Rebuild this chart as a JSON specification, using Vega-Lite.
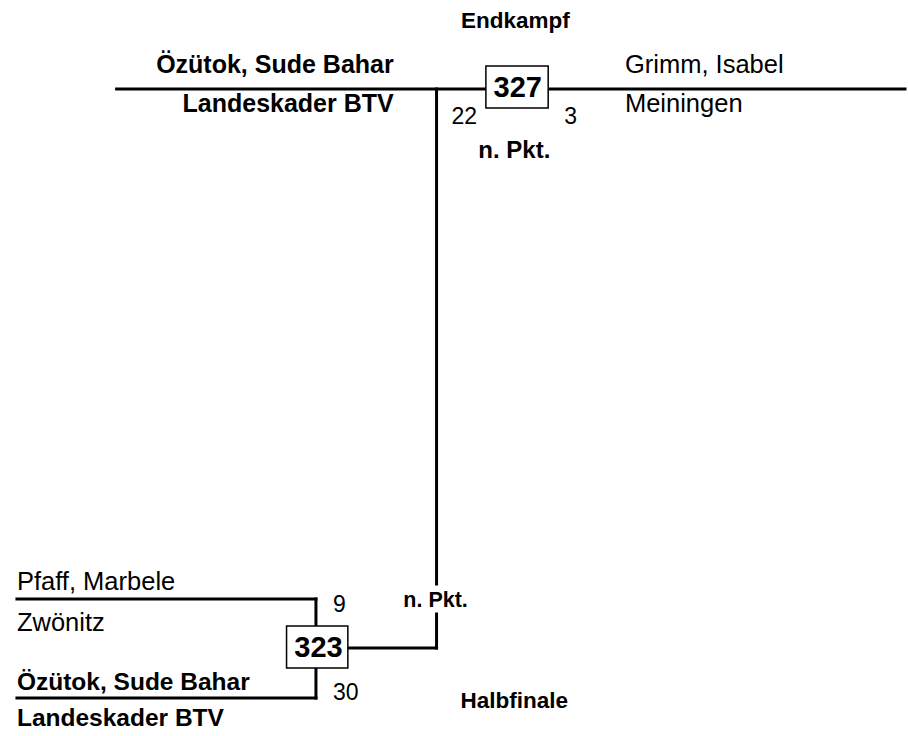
{
  "$schema": "https://vega.github.io/schema/vega-lite/v6.json",
  "width": 908,
  "height": 736,
  "autosize": {"type": "fit", "contains": "padding"},
  "padding": 0,
  "background": "white",
  "config": {"view": {"stroke": null}, "font": "Liberation Sans"},
  "datasets": {
    "lines": [
      {"x": 117, "x2": 908, "y": 89, "y2": 89},
      {"x": 438, "x2": 438, "y": 89, "y2": 584},
      {"x": 438, "x2": 438, "y": 614, "y2": 648},
      {"x": 349, "x2": 438, "y": 648, "y2": 648},
      {"x": 17, "x2": 317, "y": 599, "y2": 599},
      {"x": 317, "x2": 317, "y": 599, "y2": 626},
      {"x": 317, "x2": 317, "y": 668, "y2": 698},
      {"x": 17, "x2": 317, "y": 698, "y2": 698}
    ],
    "boxes": [
      {"x": 487.5, "x2": 550, "y": 66, "y2": 108},
      {"x": 287.5, "x2": 349, "y": 626, "y2": 668}
    ],
    "texts": [
      {"text": "Endkampf", "x": 517, "y": 28, "kind": "head"},
      {"text": "Halbfinale", "x": 516, "y": 708, "kind": "head"},
      {"text": "Özütok, Sude Bahar", "x": 395, "y": 73, "kind": "boldR"},
      {"text": "Landeskader BTV", "x": 395, "y": 112, "kind": "boldR"},
      {"text": "Grimm, Isabel", "x": 627, "y": 73, "kind": "nameL"},
      {"text": "Meiningen", "x": 627, "y": 112, "kind": "nameL"},
      {"text": "Pfaff, Marbele", "x": 17, "y": 590, "kind": "nameL"},
      {"text": "Zwönitz", "x": 17, "y": 631, "kind": "nameL"},
      {"text": "Özütok, Sude Bahar", "x": 17, "y": 690, "kind": "boldL"},
      {"text": "Landeskader BTV", "x": 17, "y": 726, "kind": "boldL"},
      {"text": "22", "x": 453, "y": 124, "kind": "score"},
      {"text": "3", "x": 566, "y": 124, "kind": "score"},
      {"text": "9", "x": 334, "y": 612, "kind": "score"},
      {"text": "30", "x": 334, "y": 700, "kind": "score"},
      {"text": "n. Pkt.", "x": 516, "y": 158, "kind": "note"},
      {"text": "n. Pkt.", "x": 437, "y": 607, "kind": "noteSmall"},
      {"text": "327", "x": 519.5, "y": 97, "kind": "match"},
      {"text": "323", "x": 319.5, "y": 657, "kind": "match"}
    ]
  },
  "encoding": {
    "x": {"field": "x", "type": "quantitative", "scale": {"domain": [0, 908], "nice": false, "zero": false}, "axis": null},
    "y": {"field": "y", "type": "quantitative", "scale": {"domain": [0, 736], "nice": false, "zero": false, "reverse": true}, "axis": null}
  },
  "layer": [
    {
      "data": {"name": "lines"},
      "mark": {"type": "rule", "color": "black", "strokeWidth": 3, "strokeCap": "square"},
      "encoding": {"x2": {"field": "x2"}, "y2": {"field": "y2"}}
    },
    {
      "data": {"name": "boxes"},
      "mark": {"type": "rect", "fill": "white", "stroke": "black", "strokeWidth": 1.5},
      "encoding": {"x2": {"field": "x2"}, "y2": {"field": "y2"}}
    },
    {
      "data": {"name": "texts"},
      "transform": [{"filter": "datum.kind === 'head'"}],
      "mark": {"type": "text", "font": "Liberation Sans", "fontWeight": "bold", "fontSize": 22.5, "align": "center", "baseline": "alphabetic", "color": "black"},
      "encoding": {"text": {"field": "text"}}
    },
    {
      "data": {"name": "texts"},
      "transform": [{"filter": "datum.kind === 'boldR'"}],
      "mark": {"type": "text", "font": "Liberation Sans", "fontWeight": "bold", "fontSize": 25, "align": "right", "baseline": "alphabetic", "color": "black"},
      "encoding": {"text": {"field": "text"}}
    },
    {
      "data": {"name": "texts"},
      "transform": [{"filter": "datum.kind === 'boldL'"}],
      "mark": {"type": "text", "font": "Liberation Sans", "fontWeight": "bold", "fontSize": 24.5, "align": "left", "baseline": "alphabetic", "color": "black"},
      "encoding": {"text": {"field": "text"}}
    },
    {
      "data": {"name": "texts"},
      "transform": [{"filter": "datum.kind === 'nameL'"}],
      "mark": {"type": "text", "font": "Liberation Sans", "fontSize": 25.5, "align": "left", "baseline": "alphabetic", "color": "black"},
      "encoding": {"text": {"field": "text"}}
    },
    {
      "data": {"name": "texts"},
      "transform": [{"filter": "datum.kind === 'score'"}],
      "mark": {"type": "text", "font": "Liberation Sans", "fontSize": 23, "align": "left", "baseline": "alphabetic", "color": "black"},
      "encoding": {"text": {"field": "text"}}
    },
    {
      "data": {"name": "texts"},
      "transform": [{"filter": "datum.kind === 'note'"}],
      "mark": {"type": "text", "font": "Liberation Sans", "fontWeight": "bold", "fontSize": 24, "align": "center", "baseline": "alphabetic", "color": "black"},
      "encoding": {"text": {"field": "text"}}
    },
    {
      "data": {"name": "texts"},
      "transform": [{"filter": "datum.kind === 'noteSmall'"}],
      "mark": {"type": "text", "font": "Liberation Sans", "fontWeight": "bold", "fontSize": 21.5, "align": "center", "baseline": "alphabetic", "color": "black"},
      "encoding": {"text": {"field": "text"}}
    },
    {
      "data": {"name": "texts"},
      "transform": [{"filter": "datum.kind === 'match'"}],
      "mark": {"type": "text", "font": "Liberation Sans", "fontWeight": "bold", "fontSize": 29, "align": "center", "baseline": "alphabetic", "color": "black"},
      "encoding": {"text": {"field": "text"}}
    }
  ]
}
